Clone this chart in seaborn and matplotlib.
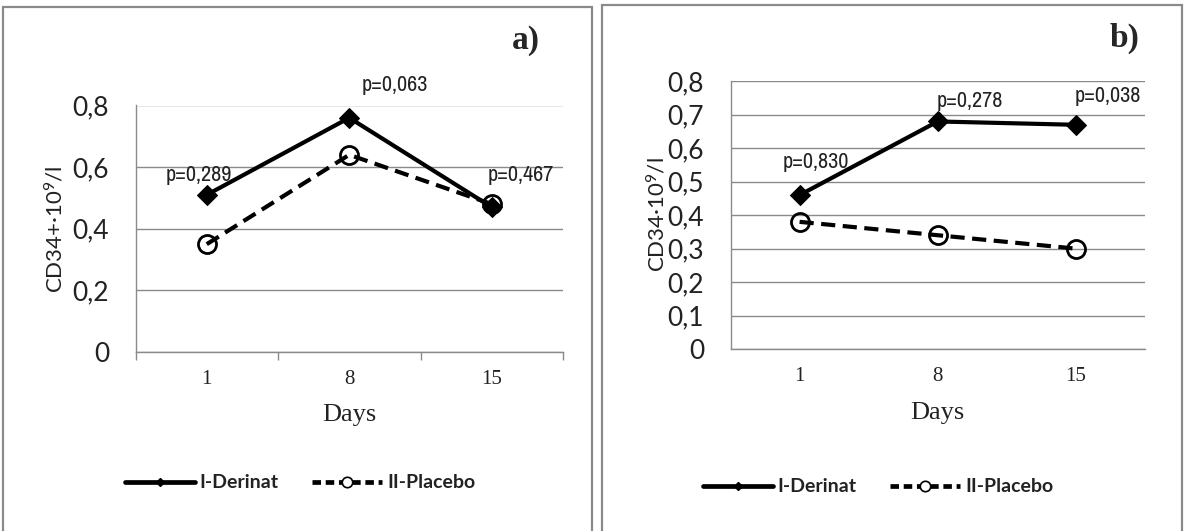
import matplotlib
matplotlib.use("Agg")
import matplotlib.pyplot as plt
from matplotlib.lines import Line2D
from matplotlib.patches import Rectangle
from matplotlib import font_manager as fm
import seaborn as sns
import pandas as pd

# ---------------- data ----------------
days = ["1", "8", "15"]
derinat_a = [0.51, 0.76, 0.47]
placebo_a = [0.35, 0.64, 0.48]
pvals_a = ["p=0,289", "p=0,063", "p=0,467"]

derinat_b = [0.46, 0.68, 0.67]
placebo_b = [0.38, 0.34, 0.30]
pvals_b = ["p=0,830", "p=0,278", "p=0,038"]

yticks_a = [0, 0.2, 0.4, 0.6, 0.8]
yticks_b = [0, 0.1, 0.2, 0.3, 0.4, 0.5, 0.6, 0.7, 0.8]
series_names = ["I-Derinat", "II-Placebo"]
ylabel_a = r"CD34+·10$^{\mathrm{9}}$/l"
ylabel_b = r"CD34·10$^{\mathrm{9}}$/l"
xlabel = "Days"

# ---------------- style ----------------
sns.set_theme(style="white")
plt.rcParams["font.family"] = ["Lato", "DejaVu Sans"]
plt.rcParams["mathtext.fontset"] = "custom"
plt.rcParams["mathtext.rm"] = "Lato"
plt.rcParams["mathtext.it"] = "Lato:italic"
plt.rcParams["mathtext.bf"] = "Lato:bold"


def pick_narrow():
    fl = fm.fontManager.ttflist
    def ok(f):
        return f.style == "normal" and f.weight in (400, "normal", "regular", 500)
    for want in ["Liberation Sans Narrow", "Arial Narrow"]:
        for f in fl:
            if f.name == want and ok(f):
                return fm.FontProperties(fname=f.fname), 16
    for f in fl:
        if ("Narrow" in f.name or "Condensed" in f.name) and ok(f) and "Mono" not in f.name:
            return fm.FontProperties(fname=f.fname), 16
    for base in ["Roboto", "Noto Sans", "Open Sans", "DejaVu Sans"]:
        for f in fl:
            if f.name == base and f.stretch in ("condensed", "extra-condensed") and ok(f):
                return fm.FontProperties(fname=f.fname), 15
    return fm.FontProperties(family=["Liberation Sans", "DejaVu Sans"]), 13


NARROW_FP, NARROW_SIZE = pick_narrow()

W, H = 1186, 531
fig = plt.figure(figsize=(W / 100, H / 100), dpi=100)
fig.patch.set_facecolor("white")

GRAY = "#8a8a8a"
SANS = ["Lato", "DejaVu Sans"]
SERIF = ["Liberation Serif", "DejaVu Serif"]


def fx(x):
    return x / W


def fy(y):
    return 1 - y / H


# panel frames
fig.patches.append(Rectangle((fx(3), fy(540)), fx(592) - fx(3), fy(7) - fy(540),
                             transform=fig.transFigure, fill=False,
                             edgecolor=GRAY, lw=1.6))
fig.patches.append(Rectangle((fx(602), fy(540)), fx(1182) - fx(602), fy(5) - fy(540),
                             transform=fig.transFigure, fill=False,
                             edgecolor=GRAY, lw=1.6))


def make_panel(rect, der, pla, yticks, ylab, pvals, poffs, xticks_marks,
               title, title_xy, days_y, ylab_x, leg_xy):
    ax = fig.add_axes(rect)
    df = pd.DataFrame({"day": days, "der": der, "pla": pla})
    sns.lineplot(data=df, x="day", y="der", ax=ax, color="black", lw=3.0,
                 marker="D", markersize=10, markeredgecolor="black",
                 sort=False, zorder=4)
    sns.lineplot(data=df, x="day", y="pla", ax=ax, color="black", lw=3.0,
                 marker="o", markersize=13, markerfacecolor="none",
                 markeredgecolor="black", markeredgewidth=2.0,
                 sort=False, zorder=3)
    ax.lines[1].set_dashes((3.4, 1.8))
    ax.set_xlim(-0.5, 2.5)
    ax.set_ylim(0, 0.8)
    ax.set_yticks(yticks)
    ax.set_yticklabels([("%g" % v).replace(".", ",") for v in yticks],
                       family=SANS, fontsize=19, color="#222222")
    ax.set_xticks(range(len(days)))
    ax.set_xticklabels(days, family=SERIF, fontsize=15, color="#222222")
    ax.tick_params(axis="x", which="major", length=0, pad=13)
    ax.tick_params(axis="y", which="major", length=7, width=1, color=GRAY, pad=12)
    if xticks_marks:
        ax.set_xticks([-0.5, 0.5, 1.5, 2.5], minor=True)
        ax.tick_params(axis="x", which="minor", length=6, width=1, color=GRAY,
                       direction="out", bottom=True)
    ax.grid(axis="y", color=GRAY, lw=1)
    ax.grid(axis="x", visible=False)
    for s in ["top", "right"]:
        ax.spines[s].set_visible(False)
    for s in ["left", "bottom"]:
        ax.spines[s].set_color(GRAY)
        ax.spines[s].set_linewidth(1)
    ax.set_xlabel("")
    ax.set_ylabel("")
    ax.set_facecolor("white")

    # p-value labels
    for i, (txt, off) in enumerate(zip(pvals, poffs)):
        ax.annotate(txt, (i, der[i]), xytext=off, textcoords="offset pixels",
                    ha="center", va="center", fontproperties=NARROW_FP,
                    fontsize=NARROW_SIZE, color="#222222", zorder=6)

    fig.text(fx(title_xy[0]), fy(title_xy[1]), title, family=SERIF,
             fontweight="bold", fontsize=24, ha="center", va="center")
    cx = (rect[0] + rect[0] + rect[2]) / 2
    fig.text(cx, fy(days_y), xlabel, family=SERIF, fontsize=19,
             ha="center", va="center", color="#222222")
    fig.text(fx(ylab_x), rect[1] + rect[3] / 2, ylab, family=SANS, fontsize=16,
             rotation=90, ha="center", va="center", color="#222222")

    handles = [
        Line2D([], [], color="black", lw=3.4, marker="D", markersize=4),
        Line2D([], [], color="black", lw=3.4, dashes=(1.8, 1.0), marker="o",
               markersize=7.5, markerfacecolor="white", markeredgewidth=1.2),
    ]
    leg = fig.legend(handles, series_names, loc="center",
                     bbox_to_anchor=(fx(leg_xy[0]), fy(leg_xy[1])),
                     ncol=2, frameon=False, handlelength=3.6,
                     handletextpad=0.25, columnspacing=1.7,
                     prop={"family": SANS, "size": 14, "weight": "bold"})
    for t in leg.get_texts():
        t.set_color("#222222")
    return ax


rect_a = [fx(135.5), fy(352), fx(563) - fx(135.5), fy(105.5) - fy(352)]
rect_b = [fx(730.5), fy(349), fx(1145) - fx(730.5), fy(81.3) - fy(349)]

make_panel(rect_a, derinat_a, placebo_a, yticks_a, ylabel_a, pvals_a,
           [(-8, 20), (46, 33), (29, 32)], True,
           "a)", (526, 41), 415, 55, (300, 483))
make_panel(rect_b, derinat_b, placebo_b, yticks_b, ylabel_b, pvals_b,
           [(16, 33), (32, 20), (32, 29)], False,
           "b)", (1124, 38), 413, 657, (878, 487))

fig.savefig("out.png", dpi=100, facecolor="white")
